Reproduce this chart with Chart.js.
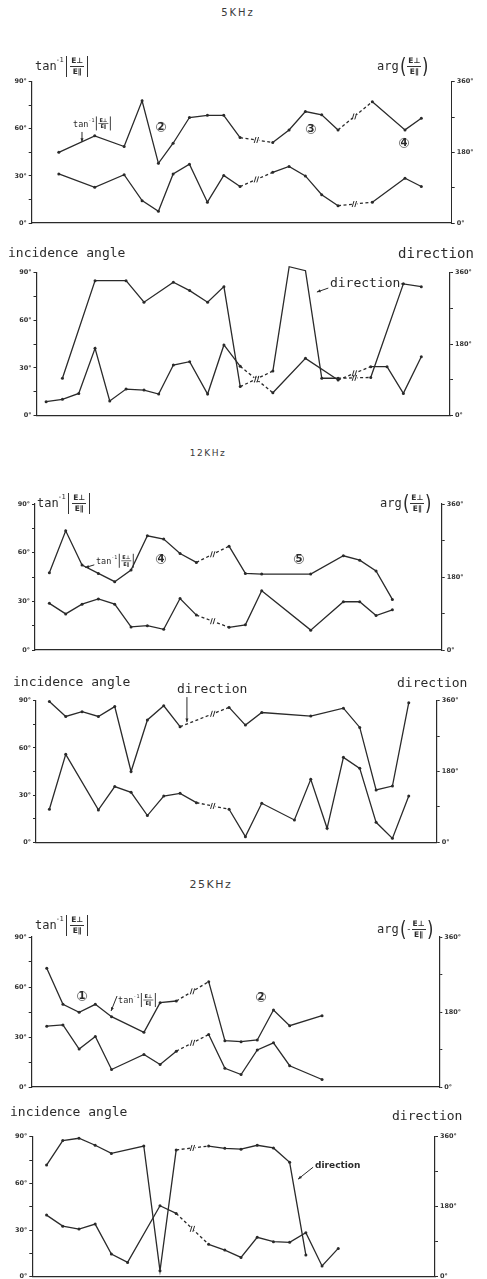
<!DOCTYPE html>
<html>
<head>
<meta charset="utf-8">
<script src="https://cdn.jsdelivr.net/npm/chart.js@4.4.1/dist/chart.umd.min.js"></script>
<style>
  html, body { margin: 0; padding: 0; background: #fff; }
  body { position: relative; width: 487px; height: 1279px; overflow: hidden; color: #2b2b2b; }
  canvas { position: absolute; left: 0; }
  .freq { position: absolute; font-family: 'DejaVu Sans', sans-serif; color: #3a3a3a; white-space: nowrap; transform: translateX(-50%); }
  .mono { position: absolute; font-family: 'DejaVu Sans Mono', monospace; white-space: nowrap; line-height: 14px; color: #2b2b2b; }
  .ttl { position: absolute; white-space: nowrap; font-family: 'DejaVu Sans Mono', monospace; font-size: 12px; color: #2b2b2b;
         height: 22px; display: flex; align-items: center; }
  .ttl sup { font-size: 7px; position: relative; top: -6px; margin-left: -1px; letter-spacing: -0.5px; }
  .absv { display: inline-flex; align-items: center; border-left: 1.3px solid #333; border-right: 1.3px solid #333;
          height: 21px; padding: 0 3px; margin-left: 3px; }
  .frac { display: inline-flex; flex-direction: column; align-items: center; font-family: 'DejaVu Sans', sans-serif;
          font-weight: bold; font-size: 7.5px; line-height: 8px; }
  .frac .num { border-bottom: 1px solid #333; padding: 0 1px 1px; }
  .frac .den { padding-top: 1px; }
  .paren { font-family: 'DejaVu Sans', sans-serif; font-size: 22px; line-height: 22px; transform: scaleX(0.75); display: inline-block; }
  .minus { font-family: 'DejaVu Sans', sans-serif; font-size: 9px; margin-right: 1px; }
</style>
</head>
<body>

<div class="freq" style="left:238px;top:7px;font-size:10px;letter-spacing:2px">5KHz</div>
<div class="freq" style="left:208px;top:448px;font-size:9px;letter-spacing:1.5px">12KHz</div>
<div class="freq" style="left:211px;top:878px;font-size:11px;letter-spacing:1.5px">25KHz</div>

<!-- 5 kHz titles -->
<div class="ttl" style="left:35px;top:55px">tan<sup>-1</sup><span class="absv"><span class="frac"><span class="num">E⊥</span><span class="den">E∥</span></span></span></div>
<div class="ttl" style="left:377px;top:55px">arg<span class="paren">(</span><span class="frac"><span class="num">E⊥</span><span class="den">E∥</span></span><span class="paren">)</span></div>
<div class="mono" style="left:8px;top:246px;font-size:13px">incidence angle</div>
<div class="mono" style="left:398px;top:246px;font-size:14px">direction</div>

<!-- 12 kHz titles -->
<div class="ttl" style="left:37px;top:492px">tan<sup>-1</sup><span class="absv"><span class="frac"><span class="num">E⊥</span><span class="den">E∥</span></span></span></div>
<div class="ttl" style="left:380px;top:492px">arg<span class="paren">(</span><span class="frac"><span class="num">E⊥</span><span class="den">E∥</span></span><span class="paren">)</span></div>
<div class="mono" style="left:13px;top:675px;font-size:13px">incidence angle</div>
<div class="mono" style="left:397px;top:676px;font-size:13px">direction</div>

<!-- 25 kHz titles -->
<div class="ttl" style="left:35px;top:914px">tan<sup>-1</sup><span class="absv"><span class="frac"><span class="num">E⊥</span><span class="den">E∥</span></span></span></div>
<div class="ttl" style="left:377px;top:918px">arg<span class="paren">(</span><span class="minus">-</span><span class="frac"><span class="num">E⊥</span><span class="den">E∥</span></span><span class="paren">)</span></div>
<div class="mono" style="left:10px;top:1105px;font-size:13px">incidence angle</div>
<div class="mono" style="left:392px;top:1109px;font-size:13px">direction</div>

<script>
// ---------- axis ticks ----------
const angleTicks = [0, 15, 30, 45, 60, 75, 90];
const angleTickLabels = ['0°', '', '30°', '', '60°', '', '90°'];
const phaseTicks = [0, 90, 180, 270, 360];
const phaseTickLabels = ['0°', '', '180°', '', '360°'];

// ---------- 5 kHz : polarisation (sample number, degrees) ----------
const t5kPol = [0.8, 3.0, 4.8, 5.9, 6.9, 7.8, 8.8, 9.9, 10.9, 11.9, 13.9, 14.9, 15.9, 16.9, 17.9, 20.0, 22.0, 23.0];
const tanRatio5k = [45, 55.5, 48.7, 77.8, 38, 50.8, 67.2, 68.6, 68.6, 54.4, 51.3, 59.3, 71, 68.9, 59.3, 77.3, 59.3, 66.7];
const argRatio5k = [125, 91, 123, 57, 30, 125, 150, 53, 121, 93, 129, 144, 120, 72, 44, 53, 114, 93];
const gaps5kPol = [12.9, 18.9];

// ---------- 5 kHz : incidence / direction ----------
const t5kDir = [0, 1.0, 2.0, 3.0, 3.9, 4.9, 6.0, 6.9, 7.8, 8.8, 9.9, 10.9, 11.9, 13.9, 14.9, 15.9, 16.9, 17.9, 19.9, 20.9, 21.9, 23.0];
const incidence5k = [8.8, 10.3, 14, 42.3, 9.2, 16.7, 16.1, 13.6, 31.8, 33.9, 13.6, 44.4, 31, 14.4, null, 36, null, 22.4, 30.8, 30.8, 14, 37];
const direction5k = [null, 94, null, 339, null, 339, 285, null, 335, 314, 285, 324, 73, 112, 374, 364, 94, 94, 96, null, 331, 324];
const gaps5kDir = [12.9, 18.9];

// ---------- 12 kHz : polarisation ----------
const t12kPol = [0, 1, 2, 3, 4, 5, 6, 7, 8, 9, 11, 12, 13, 16, 18, 19, 20, 21];
const tanRatio12k = [47.6, 73.5, 52.4, 47.2, 42.1, 49.3, 70.4, 68.4, 59.5, 54, 64, 47.2, 46.8, 46.8, 58.1, 55.4, 48.7, 31.2];
const argRatio12k = [115, 89, 113, 126, 113, 57, 60, 51, 127, 86, 56, 62, 146, 49, 119, 119, 85, 99];
const gaps12kPol = [10];

// ---------- 12 kHz : incidence / direction ----------
const t12kDir = [0, 1, 2, 3, 4, 5, 6, 7, 8, 9, 11, 12, 13, 15, 16, 17, 18, 19, 20, 21, 22];
const incidence12k = [21, 55.9, null, 20.6, 35.4, 31.8, 17, 29.4, 31.1, 25.2, 21, 3.6, 24.8, 14.2, 40, 8.9, 54, 47, 12.7, 2.5, 29.4];
const direction12k = [358, 320, 332, 320, 345, 180, 311, 347, 294, null, 343, 298, 330, null, 321, null, 341, 292, 133, 143, 355];
const gaps12kDir = [10];

// ---------- 25 kHz : polarisation ----------
const t25kPol = [0, 1, 2, 3, 4, 6, 7, 8, 10, 11, 12, 13, 14, 15, 17];
const tanRatio25k = [71.2, 49.6, 44.8, 49.6, 42.2, 32.8, 50.6, 51.6, 63.2, 27.8, 27.2, 28.2, 46.2, 36.8, 42.8];
const argRatio25k = [146, 149, 91, 121, 42, 78, 54, 86, 126, 45, 30, 89, 106, 51, 18];
const gaps25kPol = [9];

// ---------- 25 kHz : incidence / direction ----------
const t25kDir = [0, 1, 2, 3, 4, 5, 6, 7, 8, 10, 11, 12, 13, 14, 15, 16, 17, 18];
const incidence25k = [39.6, 32.5, 30.6, 33.8, 14.6, 9.2, null, 45.6, 40.7, 20.8, 17.1, 12.4, 25.3, 22.5, 22.1, 28.3, 6.9, 18.2];
const direction25k = [287, 350, 356, 338, 317, null, 336, 15, 326, 336, 330, 328, 338, 331, 294, 56, null, null];
const gaps25kDir = [9];

// ---------- drawing ----------
const W = 487;
const INK = '#2a2a2a';
const TICK_FONT = { family: "'DejaVu Sans', sans-serif", size: 6.5, weight: 'bold' };

function spans(gaps, a, b) { return gaps.some(g => g > a && g < b); }

function series(xs, ys, axis, gaps) {
  const data = xs.map((x, i) => ({ x, y: ys[i] })).filter(p => p.y !== null);
  return {
    data, yAxisID: axis, borderColor: INK, borderWidth: 1.3, tension: 0, clip: false,
    pointRadius: 1.5, pointBackgroundColor: INK, pointBorderWidth: 0, pointHoverRadius: 1.5,
    segment: {
      borderDash: c => spans(gaps, data[c.p0DataIndex].x, data[c.p1DataIndex].x) ? [3, 2.5] : undefined
    }
  };
}

// "//" break marks on the dashed stretches
const breakMarks = {
  id: 'breakMarks',
  afterDatasetsDraw(chart, args, opts) {
    const ctx = chart.ctx;
    chart.data.datasets.forEach((ds, di) => {
      const pts = chart.getDatasetMeta(di).data;
      for (let i = 1; i < pts.length; i++) {
        const x0 = ds.data[i - 1].x, x1 = ds.data[i].x;
        (opts.at || []).forEach(g => {
          if (!(g > x0 && g < x1)) return;
          const t = (g - x0) / (x1 - x0);
          const px = pts[i - 1].x + t * (pts[i].x - pts[i - 1].x);
          const py = pts[i - 1].y + t * (pts[i].y - pts[i - 1].y);
          ctx.save();
          ctx.fillStyle = '#fff';
          ctx.fillRect(px - 2.5, py - 1.5, 5, 3);
          ctx.strokeStyle = INK; ctx.lineWidth = 1;
          [-1.3, 1.3].forEach(k => {
            ctx.beginPath(); ctx.moveTo(px + k + 0.9, py - 3); ctx.lineTo(px + k - 0.9, py + 3); ctx.stroke();
          });
          ctx.restore();
        });
      }
    });
  }
};

// labels, arrows and circled curve numbers, positioned in data units (x: sample, y: left-axis degrees)
const notes = {
  id: 'notes',
  afterDraw(chart, args, opts) {
    const ctx = chart.ctx, sx = chart.scales.x, sy = chart.scales.yL;
    const P = (u, d) => [sx.getPixelForValue(u), sy.getPixelForValue(d)];
    ctx.save();
    ctx.fillStyle = INK; ctx.strokeStyle = INK;
    (opts.items || []).forEach(n => {
      if (n.kind === 'text') {
        const [x, y] = P(n.x, n.y);
        ctx.font = n.font; ctx.textAlign = 'left'; ctx.textBaseline = 'middle';
        ctx.fillText(n.text, x, y);
      } else if (n.kind === 'line' || n.kind === 'arrow') {
        const [x1, y1] = P(n.x1, n.y1), [x2, y2] = P(n.x2, n.y2);
        ctx.lineWidth = 1;
        ctx.beginPath(); ctx.moveTo(x1, y1); ctx.lineTo(x2, y2); ctx.stroke();
        if (n.kind === 'arrow') {
          const a = Math.atan2(y2 - y1, x2 - x1), L = 4;
          ctx.beginPath();
          ctx.moveTo(x2, y2);
          ctx.lineTo(x2 - L * Math.cos(a - 0.4), y2 - L * Math.sin(a - 0.4));
          ctx.lineTo(x2 - L * Math.cos(a + 0.4), y2 - L * Math.sin(a + 0.4));
          ctx.closePath(); ctx.fill();
        }
      } else if (n.kind === 'circ') {
        const [x, y] = P(n.x, n.y);
        ctx.font = "bold 10px 'DejaVu Sans', 'Noto Sans CJK JP', sans-serif";
        ctx.textAlign = 'center'; ctx.textBaseline = 'middle';
        ctx.fillText(n.text, x, y);
        ctx.lineWidth = 0.6;
        ctx.beginPath(); ctx.arc(x, y, 4.6, 0, Math.PI * 2); ctx.stroke();
      } else if (n.kind === 'tan') {
        // tan⁻¹|E⊥/E∥| with a stacked fraction
        let [x, y] = P(n.x, n.y);
        ctx.textAlign = 'left'; ctx.textBaseline = 'middle';
        ctx.font = "8.5px 'DejaVu Sans Mono', monospace";
        ctx.fillText('tan', x, y + 1);
        x += ctx.measureText('tan').width;
        ctx.font = "5px 'DejaVu Sans Mono', monospace";
        ctx.fillText('-1', x, y - 3);
        x += ctx.measureText('-1').width + 2;
        ctx.lineWidth = 0.9;
        ctx.beginPath(); ctx.moveTo(x, y - 7); ctx.lineTo(x, y + 7); ctx.stroke();
        x += 2;
        ctx.font = "bold 5px 'DejaVu Sans', sans-serif";
        const fw = Math.max(ctx.measureText('E⊥').width, ctx.measureText('E∥').width) + 2;
        ctx.textAlign = 'center';
        ctx.fillText('E⊥', x + fw / 2, y - 3.2);
        ctx.fillText('E∥', x + fw / 2, y + 3.6);
        ctx.lineWidth = 0.7;
        ctx.beginPath(); ctx.moveTo(x, y); ctx.lineTo(x + fw, y); ctx.stroke();
        x += fw + 2;
        ctx.lineWidth = 0.9;
        ctx.beginPath(); ctx.moveTo(x, y - 7); ctx.lineTo(x, y + 7); ctx.stroke();
      }
    });
    ctx.restore();
  }
};

function buildPanel(p) {
  const padTop = 22, padBottom = 12;
  const top = Math.round(p.area.top) - padTop;
  const height = Math.ceil(p.area.bottom - top + padBottom);
  const cv = document.createElement('canvas');
  cv.width = W; cv.height = height;
  cv.style.top = top + 'px'; cv.style.width = W + 'px'; cv.style.height = height + 'px';
  document.body.insertBefore(cv, document.body.firstChild);

  const axisCommon = {
    grid: { drawOnChartArea: false, drawTicks: true, tickLength: 3, color: INK, lineWidth: 1 },
    ticks: { font: TICK_FONT, color: '#333', padding: 2, autoSkip: false }
  };

  new Chart(cv, {
    type: 'line',
    data: {
      datasets: [
        series(p.xUpper, p.upper, p.upperAxis, p.gaps),
        series(p.xLower, p.lower, p.lowerAxis, p.gaps)
      ]
    },
    options: {
      responsive: false, animation: false, events: [],
      layout: { padding: { top: p.area.top - top, bottom: height - (p.area.bottom - top), left: 0, right: 0 } },
      plugins: { legend: { display: false }, tooltip: { enabled: false },
                 breakMarks: { at: p.gaps }, notes: { items: p.notes } },
      scales: {
        x: {
          type: 'linear', min: p.xRange[0], max: p.xRange[1],
          ticks: { display: false }, grid: { display: false },
          border: { display: true, color: INK, width: 1.2 },
          afterFit: s => { s.height = 0; }
        },
        yL: {
          position: 'left', min: 0, max: 90, ...axisCommon,
          ticks: { ...axisCommon.ticks, callback: (v, i) => angleTickLabels[i] },
          afterBuildTicks: s => { s.ticks = angleTicks.map(v => ({ value: v })); },
          border: { color: INK, width: 1.2 },
          afterFit: s => { s.width = p.area.left; }
        },
        yR: {
          position: 'right', min: 0, max: 360, ...axisCommon,
          ticks: { ...axisCommon.ticks, callback: (v, i) => phaseTickLabels[i] },
          afterBuildTicks: s => { s.ticks = phaseTicks.map(v => ({ value: v })); },
          border: { color: INK, width: p.rightDotted ? 1 : 1.2, dash: p.rightDotted ? [1.5, 2] : [] },
          afterFit: s => { s.width = W - p.area.right; }
        }
      }
    },
    plugins: [breakMarks, notes]
  });
}

const MONO13 = "13px 'DejaVu Sans Mono', monospace";

const panels = [
  { // 5 kHz polarisation
    area: { left: 31.7, right: 451.7, top: 81.7, bottom: 223 }, xRange: [-0.86, 24.86], rightDotted: true,
    xUpper: t5kPol, upper: tanRatio5k, upperAxis: 'yL',
    xLower: t5kPol, lower: argRatio5k, lowerAxis: 'yR', gaps: gaps5kPol,
    notes: [
      { kind: 'tan', x: 1.67, y: 63.4 },
      { kind: 'arrow', x1: 2.22, y1: 58, x2: 2.22, y2: 51.6 },
      { kind: 'circ', x: 7.06, y: 61.2, text: '2' },
      { kind: 'circ', x: 16.24, y: 59.9, text: '3' },
      { kind: 'circ', x: 21.94, y: 51, text: '4' }
    ]
  },
  { // 5 kHz incidence / direction
    area: { left: 36.5, right: 450, top: 272.3, bottom: 415.7 }, xRange: [-0.59, 24.76],
    xUpper: t5kDir, upper: direction5k, upperAxis: 'yR',
    xLower: t5kDir, lower: incidence5k, lowerAxis: 'yL', gaps: gaps5kDir,
    notes: [
      { kind: 'text', x: 17.4, y: 82.7, text: 'direction', font: MONO13 },
      { kind: 'arrow', x1: 17.3, y1: 80.1, x2: 16.6, y2: 77.6 },
      { kind: 'line', x1: 21.75, y1: 82.7, x2: 21.95, y2: 82.7 }
    ]
  },
  { // 12 kHz polarisation
    area: { left: 35, right: 441.7, top: 504, bottom: 650 }, xRange: [-0.88, 24.02],
    xUpper: t12kPol, upper: tanRatio12k, upperAxis: 'yL',
    xLower: t12kPol, lower: argRatio12k, lowerAxis: 'yR', gaps: gaps12kPol,
    notes: [
      { kind: 'tan', x: 2.85, y: 55 },
      { kind: 'arrow', x1: 2.75, y1: 52.5, x2: 2.2, y2: 50.8 },
      { kind: 'circ', x: 6.83, y: 56.1, text: '4' },
      { kind: 'circ', x: 15.28, y: 56.1, text: '5' }
    ]
  },
  { // 12 kHz incidence / direction
    area: { left: 36, right: 436.7, top: 700.7, bottom: 842.3 }, xRange: [-0.82, 23.71],
    xUpper: t12kDir, upper: direction12k, upperAxis: 'yR',
    xLower: t12kDir, lower: incidence12k, lowerAxis: 'yL', gaps: gaps12kDir,
    notes: [
      { kind: 'text', x: 7.81, y: 96.8, text: 'direction', font: MONO13 },
      { kind: 'arrow', x1: 8.42, y1: 92.3, x2: 8.42, y2: 76.4 }
    ]
  },
  { // 25 kHz polarisation
    area: { left: 31.7, right: 439.3, top: 937, bottom: 1087 }, xRange: [-0.93, 24.24],
    xUpper: t25kPol, upper: tanRatio25k, upperAxis: 'yL',
    xLower: t25kPol, lower: argRatio25k, lowerAxis: 'yR', gaps: gaps25kPol,
    notes: [
      { kind: 'tan', x: 4.4, y: 52.2 },
      { kind: 'arrow', x1: 4.34, y1: 54.6, x2: 3.97, y2: 45.6 },
      { kind: 'circ', x: 2.18, y: 54.6, text: '1' },
      { kind: 'circ', x: 13.23, y: 54, text: '2' }
    ]
  },
  { // 25 kHz incidence / direction
    area: { left: 32.3, right: 435, top: 1136.7, bottom: 1276.7 }, xRange: [-0.88, 23.97],
    xUpper: t25kDir, upper: direction25k, upperAxis: 'yR',
    xLower: t25kDir, lower: incidence25k, lowerAxis: 'yL', gaps: gaps25kDir,
    notes: [
      { kind: 'text', x: 16.57, y: 71.2, text: 'direction', font: "bold 9px 'DejaVu Sans', sans-serif" },
      { kind: 'arrow', x1: 16.45, y1: 70.4, x2: 15.52, y2: 62.7 }
    ]
  }
];

panels.forEach(buildPanel);
</script>
</body>
</html>
